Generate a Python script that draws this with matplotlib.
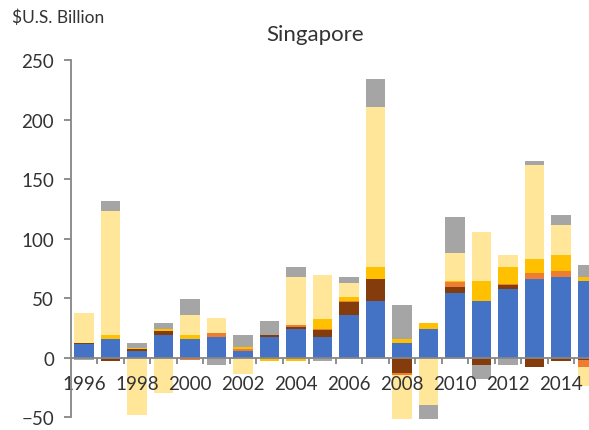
import numpy as np
import matplotlib
matplotlib.use('Agg')
import matplotlib.pyplot as plt

# data ($U.S. billion), one value per year for each series
years = list(range(1996, 2016))
blue = [11.3, 15.5, 5.7, 19.2, 15.5, 17.5, 5.7, 17.8, 24.5, 17.8,
        35.7, 47.7, 12.2, 24.0, 54.2, 47.7, 57.6, 66.0, 67.9, 64.5]
brown = [1.5, -2.5, 1.3, 3.3, 0, 0, 0, 1.4, 1.4, 5.3,
         10.7, 18.3, -12.4, 0, 4.8, -6.0, 3.3, -7.4, -2.7, -1.5]
orange = [0, 0, 0, 0, -2.0, 3.7, 1.3, 0, 1.4, 0.9,
          1.3, 0, -2.0, 0, 4.7, 0, 1.4, 5.0, 5.0, -6.0]
gold = [0, 3.7, 1.6, 1.5, 3.7, 0, 2.4, -3.0, -2.5, 8.4,
        3.4, 9.8, 3.9, 5.0, 0.8, 16.8, 14.0, 11.8, 13.2, 3.4]
light = [24.6, 104.0, -48.0, -30.0, 16.5, 12.6, -14.0, 0, 40.6, 37.2,
         11.5, 134.5, -60.0, -40.0, 23.3, 41.5, 9.8, 79.0, 25.2, -16.2]
gray = [-2.0, 8.4, 3.6, 5.6, 13.5, -6.3, 9.5, 11.7, 7.9, -2.4,
        4.8, 23.7, 28.0, -20.0, 30.0, -12.0, -6.0, 3.1, 8.4, 10.1]

series = [blue, brown, orange, gold, light, gray]
colors = ['#4472C4', '#843C0C', '#ED7D31', '#FFC000', '#FFE699', '#A5A5A5']

plt.rcParams['font.family'] = ['Lato', 'DejaVu Sans']
text_color = '#333333'
axis_color = '#868686'

fig = plt.figure(figsize=(5.89, 4.31), dpi=100)
ax = fig.add_axes([70.75 / 589, 1 - 420.1 / 431, 530 / 589, (420.1 - 61) / 431])

x = np.arange(len(years))
pos_bottom = np.zeros(len(years))
neg_bottom = np.zeros(len(years))
for vals, c in zip(series, colors):
    v = np.array(vals, dtype=float)
    pos = np.where(v > 0, v, 0)
    neg = np.where(v < 0, v, 0)
    ax.bar(x, pos, bottom=pos_bottom, width=0.75, color=c, linewidth=0)
    ax.bar(x, neg, bottom=neg_bottom, width=0.75, color=c, linewidth=0)
    pos_bottom += pos
    neg_bottom += neg

ax.set_xlim(-0.5, len(years) - 0.5)
ax.set_ylim(-51.5, 250)
ax.set_yticks(range(-50, 251, 50))

# x labels every second year, tick marks between every category
ax.set_xticks(x[::2])
ax.set_xticklabels([str(y) for y in years[::2]])
ax.set_xticks(np.arange(0.5, len(years) - 0.5, 1), minor=True)

ax.spines['top'].set_visible(False)
ax.spines['right'].set_visible(False)
ax.spines['bottom'].set_position(('data', 0))
ax.spines['left'].set_bounds(-50, 250)
for s in ['left', 'bottom']:
    ax.spines[s].set_color(axis_color)
    ax.spines[s].set_linewidth(1.3)

ax.tick_params(axis='y', length=5, width=1.3, color=axis_color, pad=7,
               labelsize=13.5, labelcolor=text_color)
ax.tick_params(axis='x', which='major', length=0, pad=12.5,
               labelsize=13.5, labelcolor=text_color)
ax.tick_params(axis='x', which='minor', length=4, width=1.3, color=axis_color)

fig.text(12 / 589, 1 - 18 / 431, '$U.S. Billion', fontsize=12.5,
         color=text_color, va='center', ha='left')
fig.text(315 / 589, 1 - 35 / 431, 'Singapore', fontsize=16,
         color=text_color, va='center', ha='center')

fig.savefig('out.png', dpi=100)
